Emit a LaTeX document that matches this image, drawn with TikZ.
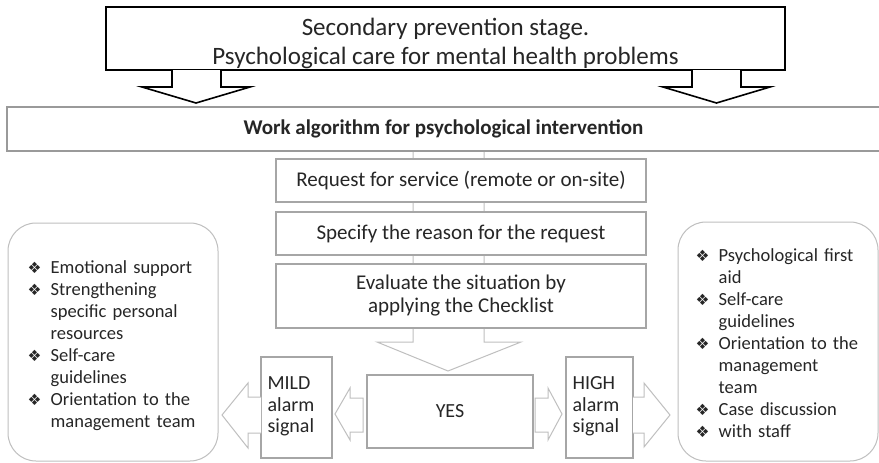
\documentclass[tikz,border=0pt]{standalone}
\usepackage{fontspec}
\setmainfont{Carlito}
\newfontfamily\dejavu{DejaVu Sans}
\usetikzlibrary{calc}
\definecolor{txt}{HTML}{262626}
\definecolor{boxgray}{HTML}{A6A6A6}
\definecolor{workgray}{HTML}{9A9A9A}
\definecolor{lightgray}{HTML}{BFBFBF}
\newcommand{\bul}{{\dejavu\fontsize{15.5}{15.5}\selectfont ❖}}
\newenvironment{blist}{\begin{list}{\bul}{%
  \setlength\leftmargin{23pt}\setlength\labelwidth{23pt}%
  \setlength\labelsep{0pt}\setlength\itemsep{0pt}\setlength\parsep{0pt}%
  \setlength\topsep{0pt}\setlength\partopsep{0pt}%
  \renewcommand\makelabel[1]{##1\hfil}}\raggedright\parfillskip=0pt plus 1fil\relax}{\end{list}}
\tikzset{
  colbox/.style={draw=boxgray, line width=1.2pt, fill=white, text=txt,
    font=\fontsize{21}{23}\selectfont, align=center, inner sep=0pt},
  sigbox/.style={draw=boxgray, line width=1.2pt, fill=white, text=txt, inner sep=0pt},
  sigtxt/.style={text=txt, font=\fontsize{20}{21.5}\selectfont, align=left, inner sep=0pt, anchor=west},
  roundbox/.style={draw=lightgray, line width=1pt, rounded corners=28pt, fill=white},
  listtxt/.style={text=txt, font=\fontsize{18.5}{22}\selectfont, inner sep=0pt,
    text width=190pt},
  blockarrow/.style={draw=lightgray, line width=1pt, fill=white, line join=miter},
  blackarrow/.style={draw=black, line width=1.6pt, fill=white, line join=miter},
}
\begin{document}
\begin{tikzpicture}[x=1pt,y=-1pt]
\useasboundingbox[fill=white] (0,0) rectangle (879,463);

% big central arrow (behind the column boxes)
\draw[blockarrow] (413,151) -- (413,342) -- (377,342) -- (448,371) -- (521,342) -- (484,342) -- (484,151);

% top box
\node[draw=black, line width=2.2pt, fill=white, minimum width=679pt, minimum height=63pt, inner sep=0pt]
  (top) at (445.5,38.5) {};
\node[text=txt, align=center, font=\fontsize{25}{29}\selectfont, inner sep=0pt]
  (toptxt) at ([yshift=-5pt]top.center) {Secondary prevention stage.\\Psychological care for mental health problems};

% black down arrows
\draw[blackarrow] (172,70) -- (172,87) -- (142,87) -- (196,103) -- (250,87) -- (221,87) -- (221,70);
\draw[blackarrow] (692,70) -- (692,87) -- (663,87) -- (716.5,103) -- (770,87) -- (741,87) -- (741,70);

% work box
\node[draw=workgray, line width=2.5pt, fill=white, text=txt,
  font=\fontsize{21}{23}\selectfont\bfseries, minimum width=873pt, minimum height=44pt, inner sep=0pt]
  (work) at (443.5,129) {Work algorithm for psychological intervention};

% column boxes
\node[colbox, minimum width=370pt, minimum height=43pt] (req) at (461,180.5)
  {Request for service (remote or on-site)};
\node[colbox, minimum width=370pt, minimum height=43pt] (spec) at (461,233.5)
  {Specify the reason for the request};
\node[colbox, minimum width=370pt, minimum height=64pt] (eval) at (461,296)
  {Evaluate the situation by\\applying the Checklist};

% YES / MILD / HIGH
\node[colbox, font=\fontsize{20}{23}\selectfont, minimum width=166pt, minimum height=73pt] (yes) at (450,411.5) {YES};
\node[sigbox, minimum width=71pt, minimum height=101pt] (mild) at (296.5,407.5) {};
\node[sigbox, minimum width=67pt, minimum height=101pt] (high) at (599.5,407.5) {};
\node[sigtxt] (mildt) at ([xshift=7pt,yshift=1pt]mild.west) {MILD\\alarm\\signal};
\node[sigtxt] (hight) at ([xshift=7pt,yshift=1pt]high.west) {HIGH\\alarm\\signal};

% small arrows
\draw[blockarrow] (363,398) -- (350,398) -- (350,388) -- (335,414) -- (350,440) -- (350,432) -- (363,432) -- cycle;
\draw[blockarrow] (535,398) -- (548,398) -- (548,388) -- (562,414) -- (548,440) -- (548,432) -- (535,432) -- cycle;
\draw[blockarrow] (261,397) -- (248,397) -- (248,383) -- (222,415) -- (248,448) -- (248,433) -- (261,433);
\draw[blockarrow] (633,397) -- (644,397) -- (644,383) -- (670,415) -- (644,447) -- (644,433) -- (633,433);

% rounded side boxes
\node[roundbox, minimum width=210pt, minimum height=238pt] (lbox) at (113,342) {};
\node[roundbox, minimum width=200pt, minimum height=239pt] (rbox) at (778,341.5) {};

\node[listtxt, anchor=west] (ltxt) at ([xshift=20pt,yshift=1pt]lbox.west) {%
\begin{blist}
\item Emotional support
\item Strengthening\newline specific personal\newline resources
\item Self-care\newline guidelines
\item Orientation to the\newline management team
\end{blist}};

\node[listtxt, anchor=west] (rtxt) at ([xshift=18pt,yshift=3pt]rbox.west) {%
\begin{blist}
\item Psychological first\newline aid
\item Self-care\newline guidelines
\item Orientation to the\newline management\newline team
\item Case discussion
\item with staff
\end{blist}};
\end{tikzpicture}
\end{document}
